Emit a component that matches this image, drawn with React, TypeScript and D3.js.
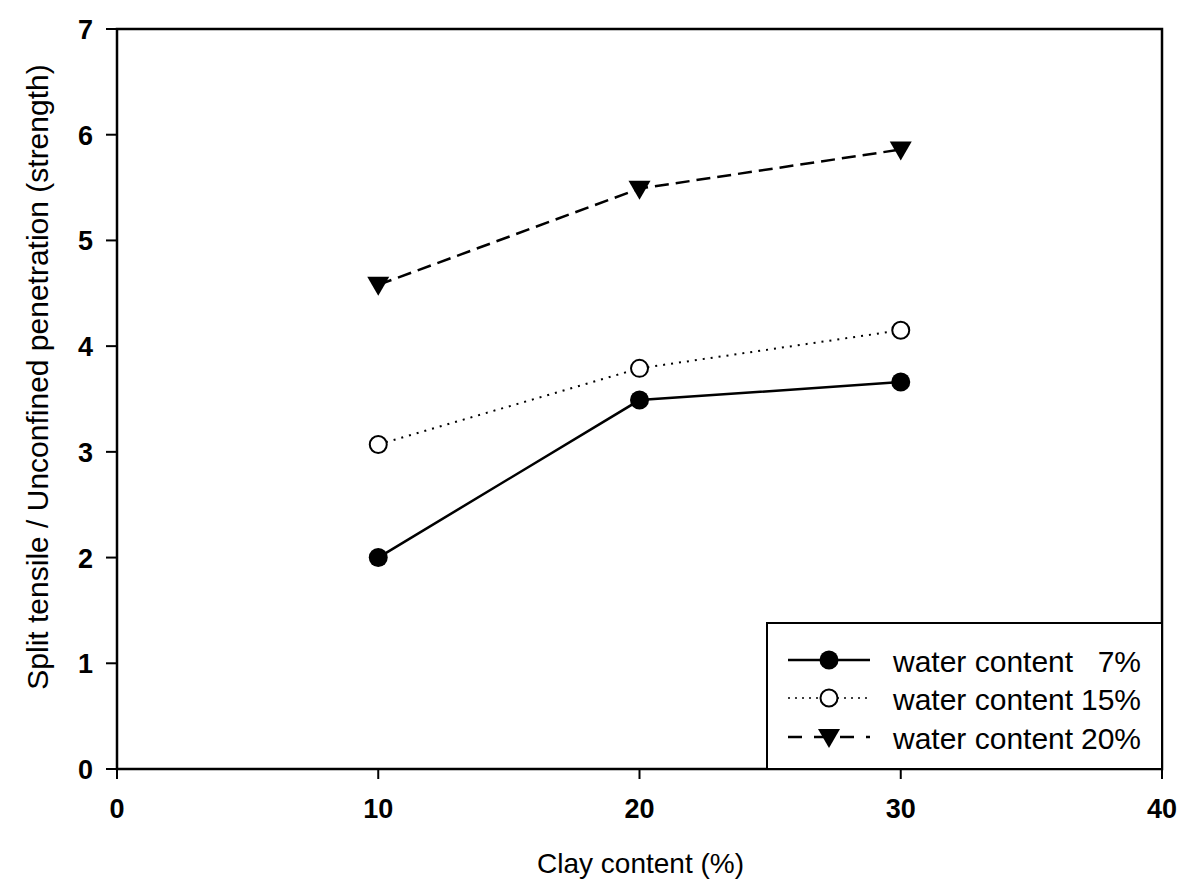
import React from "react";
import * as d3 from "d3";

const clay = [10, 20, 30];
const wc7 = [2.0, 3.49, 3.66];
const wc15 = [3.07, 3.79, 4.15];
const wc20 = [4.58, 5.49, 5.86];
const xTicks = [0, 10, 20, 30, 40];
const yTicks = [0, 1, 2, 3, 4, 5, 6, 7];
const legendNames = ["water content", "water content", "water content"];
const legendPcts = ["7%", "15%", "20%"];

const W = 1179, H = 893;
const L = 117, R = 1162, T = 29, B = 769;
const FONT = "'Liberation Sans', Arial, sans-serif";

export default function App() {
  const x = d3.scaleLinear().domain([0, 40]).range([L, R]);
  const y = d3.scaleLinear().domain([0, 7]).range([B, T]);
  const line = d3.line<number>().x((_, i) => x(clay[i])).y((d) => y(d));
  const series = [
    { vals: wc7, dash: "none", marker: "fill" },
    { vals: wc15, dash: "2,6", marker: "open" },
    { vals: wc20, dash: "14,7", marker: "tri" },
  ];
  const marker = (kind: string, cx: number, cy: number, key: any) => {
    if (kind === "fill") return <circle key={key} cx={cx} cy={cy} r={9.5} fill="#000" />;
    if (kind === "open") return <circle key={key} cx={cx} cy={cy} r={8.5} fill="#fff" stroke="#000" strokeWidth={2} />;
    const s = 11;
    const p = d3.path();
    p.moveTo(cx - s, cy - 8);
    p.lineTo(cx + s, cy - 8);
    p.lineTo(cx, cy + 11);
    p.closePath();
    return <path key={key} d={p.toString()} fill="#000" />;
  };
  const legX0 = 788, legX1 = 870, legM = 829, legTextX = 893, legPctX = 1141;
  const legY = [660, 698, 737];
  return (
    <svg width={W} height={H} style={{ position: "absolute", left: 0, top: 0, background: "#fff" }} fontFamily={FONT}>
      <rect x={0} y={0} width={W} height={H} fill="#fff" />
      <rect x={L} y={T} width={R - L} height={B - T} fill="none" stroke="#000" strokeWidth={2.5} />
      {xTicks.map((t) => (
        <g key={"x" + t}>
          <line x1={x(t)} x2={x(t)} y1={B} y2={B + 10} stroke="#000" strokeWidth={2} />
          <text x={x(t)} y={818} textAnchor="middle" fontSize={27} fontWeight="bold">{t}</text>
        </g>
      ))}
      {yTicks.map((t) => (
        <g key={"y" + t}>
          <line x1={L - 11} x2={L} y1={y(t)} y2={y(t)} stroke="#000" strokeWidth={2} />
          <text x={93} y={y(t) + 10} textAnchor="end" fontSize={27} fontWeight="bold">{t}</text>
        </g>
      ))}
      <text x={(L + R) / 2 + 1} y={873} textAnchor="middle" fontSize={28}>Clay content (%)</text>
      <text transform={`translate(48, 377) rotate(-90)`} textAnchor="middle" fontSize={30}>
        Split tensile / Unconfined penetration (strength)
      </text>
      {series.map((s, i) => (
        <g key={"s" + i}>
          <path d={line(s.vals) || ""} fill="none" stroke="#000" strokeWidth={s.dash === "2,6" ? 2 : 2.5} strokeDasharray={s.dash} />
          {s.vals.map((v, j) => marker(s.marker, x(clay[j]), y(v), j))}
        </g>
      ))}
      <rect x={767} y={623} width={R - 767} height={B - 623} fill="#fff" stroke="#000" strokeWidth={2} />
      {series.map((s, i) => (
        <g key={"l" + i}>
          <line x1={legX0} x2={legX1} y1={legY[i]} y2={legY[i]} stroke="#000" strokeWidth={s.dash === "2,6" ? 1.5 : 2.5} strokeDasharray={s.dash === "14,7" ? "14,12" : s.dash === "2,6" ? "2,5" : "none"} />
          {marker(s.marker, legM, legY[i], "m")}
          <text x={legTextX} y={legY[i] + 12} fontSize={30}>{legendNames[i]}</text>
          <text x={legPctX} y={legY[i] + 12} fontSize={30} textAnchor="end">{legendPcts[i]}</text>
        </g>
      ))}
    </svg>
  );
}
